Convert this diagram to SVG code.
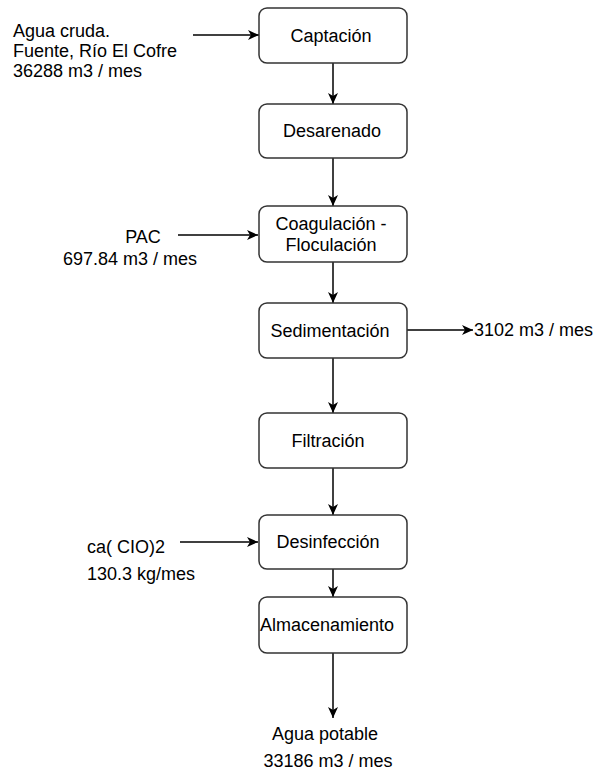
<svg xmlns="http://www.w3.org/2000/svg" width="597" height="771" viewBox="0 0 597 771">
<style>
.box{fill:#fff;stroke:#333;stroke-width:1.5}
.t{font-family:"Liberation Sans",Arial,sans-serif;font-size:18px;fill:#000}
.m{text-anchor:middle}
.c{fill:none;stroke:#000;stroke-width:1.5}
</style>
<defs>
<marker id="a" markerUnits="userSpaceOnUse" markerWidth="12" markerHeight="12" viewBox="0 0 12 10" refX="11" refY="5" orient="auto">
<path d="M0,0 L11,5 L0,10 L3,5 z" fill="#000"/>
</marker>
</defs>
<g id="connectors">
<line class="c" x1="193" y1="35" x2="259" y2="35" marker-end="url(#a)"/>
<line class="c" x1="333" y1="63" x2="333" y2="104" marker-end="url(#a)"/>
<line class="c" x1="333" y1="158" x2="333" y2="206" marker-end="url(#a)"/>
<line class="c" x1="178" y1="235" x2="258" y2="235" marker-end="url(#a)"/>
<line class="c" x1="333" y1="262" x2="333" y2="303" marker-end="url(#a)"/>
<line class="c" x1="407" y1="330" x2="473" y2="330" marker-end="url(#a)"/>
<line class="c" x1="333" y1="358" x2="333" y2="413" marker-end="url(#a)"/>
<line class="c" x1="333" y1="468" x2="333" y2="515" marker-end="url(#a)"/>
<line class="c" x1="180" y1="542" x2="258" y2="542" marker-end="url(#a)"/>
<line class="c" x1="333" y1="569" x2="333" y2="597" marker-end="url(#a)"/>
<line class="c" x1="333" y1="653" x2="333" y2="718" marker-end="url(#a)"/>
</g>
<g id="captacion"><rect class="box" x="259" y="8" width="148" height="55" rx="8"/><text class="t m" x="331" y="42">Captación</text></g>
<g id="desarenado"><rect class="box" x="259" y="104" width="148" height="54" rx="8"/><text class="t m" x="332" y="137">Desarenado</text></g>
<g id="coagulacion"><rect class="box" x="259" y="206" width="148" height="56" rx="8"/><text class="t m" x="331" y="230">Coagulación -</text><text class="t m" x="331" y="251">Floculación</text></g>
<g id="sedimentacion"><rect class="box" x="259" y="303" width="148" height="55" rx="8"/><text class="t m" x="330" y="337">Sedimentación</text></g>
<g id="filtracion"><rect class="box" x="259" y="413" width="148" height="55" rx="8"/><text class="t m" x="328" y="447">Filtración</text></g>
<g id="desinfeccion"><rect class="box" x="259" y="515" width="148" height="54" rx="8"/><text class="t m" x="328" y="548">Desinfección</text></g>
<g id="almacenamiento"><rect class="box" x="259" y="597" width="148" height="56" rx="8"/><text class="t m" x="327" y="631">Almacenamiento</text></g>
<g id="agua-cruda"><text class="t" x="13" y="37">Agua cruda.</text><text class="t" x="13" y="57">Fuente, Río El Cofre</text><text class="t" x="13" y="77">36288 m3 / mes</text></g>
<g id="pac"><text class="t m" x="143" y="243">PAC</text><text class="t m" x="130" y="265">697.84 m3 / mes</text></g>
<g id="rechazo"><text class="t" x="474" y="336">3102 m3 / mes</text></g>
<g id="cloro"><text class="t" x="87" y="553">ca( CIO)2</text><text class="t" x="87" y="580">130.3 kg/mes</text></g>
<g id="agua-potable"><text class="t m" x="325" y="740">Agua potable</text><text class="t m" x="328" y="767">33186 m3 / mes</text></g>
</svg>
